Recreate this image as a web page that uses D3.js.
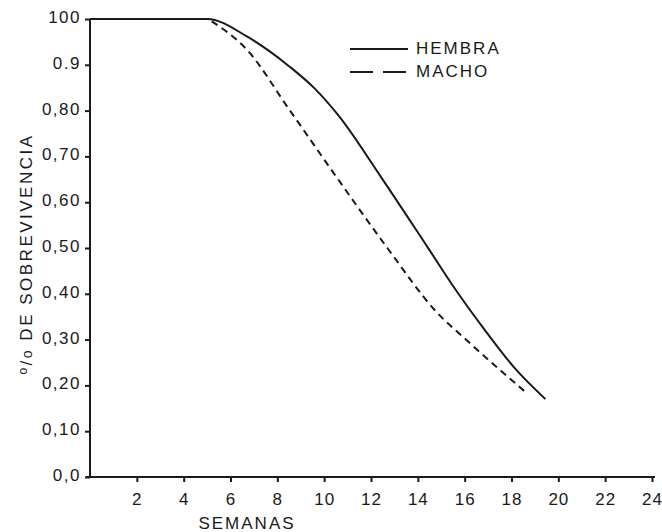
<!DOCTYPE html>
<html>
<head>
<meta charset="utf-8">
<script src="https://cdn.jsdelivr.net/npm/d3@7"></script>
<style>
  html, body { margin: 0; padding: 0; background: #fff; }
  svg text { font-family: "Liberation Sans", Arial, Helvetica, sans-serif; fill: #1a1a1a; }
</style>
</head>
<body>
<svg id="chart" width="662" height="532"></svg>
<script>
// ---- data ----
const seriesNames = ["HEMBRA", "MACHO"];
const hembraWeeks  = [0, 5.0, 6.7, 7.6, 8.5, 9.6, 10.6, 12.4, 14.4, 15.6, 16.8, 18.1, 19.45];
const hembraValues = [1.0, 1.0, 0.962, 0.932, 0.897, 0.848, 0.790, 0.657, 0.503, 0.410, 0.325, 0.240, 0.170];
const machoWeeks   = [5.2, 6.7, 8.5, 10.4, 12.7, 14.8, 16.1, 17.5, 18.7];
const machoValues  = [0.995, 0.933, 0.803, 0.664, 0.500, 0.360, 0.298, 0.234, 0.181];
const xTickValues  = [2, 4, 6, 8, 10, 12, 14, 16, 18, 20, 22, 24];
const yTickValues  = [1.0, 0.9, 0.8, 0.7, 0.6, 0.5, 0.4, 0.3, 0.2, 0.1, 0.0];
const yTickLabels  = ["100", "0.9", "0,80", "0,70", "0,60", "0,50", "0,40", "0,30", "0,20", "0,10", "0,0"];
const xTitle = "SEMANAS";
const yTitle = " DE SOBREVIVENCIA";

// ---- layout ----
const svg = d3.select("#chart");
const x = d3.scaleLinear().domain([0, 24]).range([90, 652]);
const y = d3.scaleLinear().domain([0, 1]).range([477, 19]);
const ink = "#1a1a1a";
const fontSize = 17;
const ff = "Liberation Sans, Arial, sans-serif";

// axes
const xAxis = d3.axisBottom(x).tickValues(xTickValues).tickSizeInner(5).tickSizeOuter(0).tickPadding(11);
const gx = svg.append("g").attr("transform", `translate(0,${y(0)})`).call(xAxis);
gx.select(".domain").attr("d", `M${x(0) - 4},0H${x(24) + 3}`).attr("stroke", ink).attr("stroke-width", 2);
gx.selectAll(".tick line").attr("stroke", ink).attr("stroke-width", 2);
gx.selectAll(".tick text").attr("font-size", fontSize).attr("letter-spacing", 1).attr("fill", ink)
  .attr("font-family", ff);

const yAxis = d3.axisLeft(y).tickValues(yTickValues)
  .tickFormat((d, i) => yTickLabels[i]).tickSizeInner(5).tickSizeOuter(0).tickPadding(4);
const gy = svg.append("g").attr("transform", `translate(${x(0)},0)`).call(yAxis);
gy.select(".domain").attr("d", `M0,${y(1)}V${y(0) + 1}`).attr("stroke", ink).attr("stroke-width", 2);
gy.selectAll(".tick line").attr("stroke", ink).attr("stroke-width", 2);
gy.selectAll(".tick text").attr("font-size", fontSize).attr("letter-spacing", 1.5).attr("fill", ink)
  .attr("font-family", ff).attr("dy", "0.2em");

// axis titles
svg.append("text")
  .attr("x", 247).attr("y", 529)
  .attr("text-anchor", "middle")
  .attr("font-size", fontSize).attr("letter-spacing", 2)
  .text(xTitle);

const yt = svg.append("text")
  .attr("transform", "translate(32,254) rotate(-90)")
  .attr("text-anchor", "middle")
  .attr("font-size", fontSize).attr("letter-spacing", 2.5);
yt.append("tspan").attr("font-size", 12).attr("dy", -5).text("o");
yt.append("tspan").attr("dy", 5).text("/");
yt.append("tspan").attr("font-size", 14).text("o");
yt.append("tspan").text(yTitle);

// lines
const line = d3.line().x(d => x(d[0])).y(d => y(d[1])).curve(d3.curveMonotoneX);
const hembra = hembraWeeks.map((w, i) => [w, hembraValues[i]]);
const macho = machoWeeks.map((w, i) => [w, machoValues[i]]);

svg.append("path").datum(hembra).attr("d", line)
  .attr("fill", "none").attr("stroke", ink).attr("stroke-width", 2);
svg.append("path").datum(macho).attr("d", line)
  .attr("fill", "none").attr("stroke", ink).attr("stroke-width", 2)
  .attr("stroke-dasharray", "7,5");

// legend
const legend = svg.append("g").attr("transform", "translate(350,0)");
const legendRows = [
  { name: seriesNames[0], y: 49, dash: null },
  { name: seriesNames[1], y: 72, dash: "23,10" }
];
legendRows.forEach(r => {
  legend.append("line")
    .attr("x1", 0).attr("x2", 58).attr("y1", r.y).attr("y2", r.y)
    .attr("stroke", ink).attr("stroke-width", 2)
    .attr("stroke-dasharray", r.dash);
  legend.append("text")
    .attr("x", 66).attr("y", r.y + 5)
    .attr("font-size", fontSize).attr("letter-spacing", 2)
    .text(r.name);
});
</script>
</body>
</html>
